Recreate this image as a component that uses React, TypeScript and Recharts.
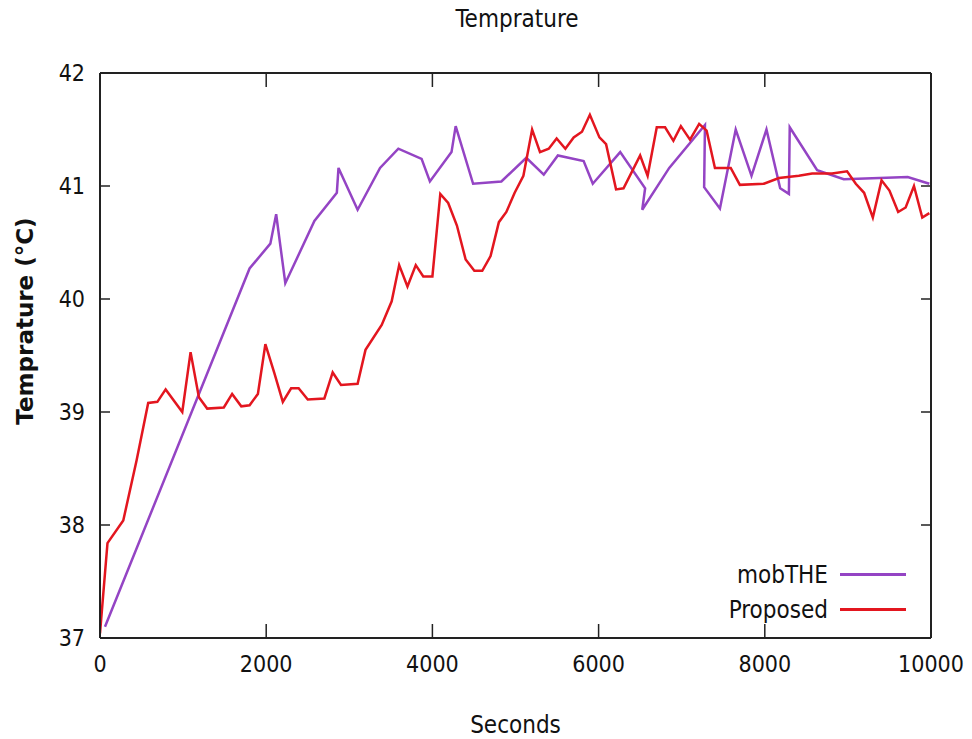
import { LineChart, Line, XAxis, YAxis, Legend } from 'recharts'

const mobTheTime = [60, 1800, 2050, 2120, 2230, 2580, 2850, 2870, 3100, 3370, 3590, 3870, 3970, 4230, 4280, 4490, 4830, 5130, 5340, 5510, 5820, 5930, 6260, 6560, 6525, 6850, 7280, 7270, 7460, 7650, 7840, 8020, 8185, 8290, 8300, 8630, 8950, 9720, 9980]
const mobTheTemp = [37.1, 40.27, 40.49, 40.75, 40.14, 40.69, 40.94, 41.16, 40.79, 41.16, 41.33, 41.24, 41.04, 41.3, 41.53, 41.02, 41.04, 41.25, 41.1, 41.27, 41.22, 41.02, 41.3, 40.98, 40.79, 41.16, 41.54, 40.99, 40.8, 41.5, 41.09, 41.5, 40.98, 40.93, 41.52, 41.14, 41.06, 41.08, 41.02]

const proposedTime = [0, 90, 280, 440, 580, 690, 790, 990, 1090, 1190, 1290, 1490, 1590, 1700, 1800, 1900, 1990, 2100, 2200, 2300, 2390, 2500, 2700, 2800, 2900, 3100, 3195, 3390, 3510, 3600, 3700, 3800, 3890, 4000, 4095, 4190, 4295, 4400, 4505, 4600, 4700, 4800, 4890, 4990, 5095, 5200, 5295, 5400, 5495, 5600, 5700, 5800, 5895, 6010, 6090, 6210, 6300, 6500, 6590, 6700, 6800, 6900, 6990, 7100, 7210, 7300, 7400, 7590, 7700, 7990, 8170, 8410, 8570, 8810, 8990, 9095, 9195, 9300, 9405, 9500, 9605, 9695, 9795, 9895, 9980]
const proposedTemp = [37.04, 37.84, 38.04, 38.57, 39.08, 39.09, 39.2, 39.0, 39.53, 39.13, 39.03, 39.04, 39.16, 39.05, 39.06, 39.16, 39.6, 39.34, 39.09, 39.21, 39.21, 39.11, 39.12, 39.35, 39.24, 39.25, 39.55, 39.77, 39.98, 40.3, 40.11, 40.3, 40.2, 40.2, 40.93, 40.85, 40.65, 40.35, 40.25, 40.25, 40.38, 40.68, 40.77, 40.94, 41.09, 41.5, 41.3, 41.33, 41.42, 41.33, 41.43, 41.48, 41.63, 41.43, 41.37, 40.97, 40.98, 41.27, 41.09, 41.52, 41.52, 41.4, 41.53, 41.41, 41.55, 41.49, 41.16, 41.16, 41.01, 41.02, 41.07, 41.09, 41.11, 41.11, 41.13, 41.02, 40.94, 40.72, 41.05, 40.96, 40.77, 40.81, 41.0, 40.72, 40.76]

const xTicks = [0, 2000, 4000, 6000, 8000, 10000]
const yTicks = [37, 38, 39, 40, 41, 42]

const series = [
  { name: 'mobTHE', color: '#9444c4', time: mobTheTime, temp: mobTheTemp },
  { name: 'Proposed', color: '#e3161f', time: proposedTime, temp: proposedTemp },
]

const FONT = '"DejaVu Sans Condensed", "DejaVu Sans", sans-serif'
const AXIS = '#222'

function BottomTick({ x, y, payload }: any) {
  return (
    <g>
      <line x1={x} x2={x} y1={y} y2={y - 14} stroke={AXIS} strokeWidth={1.5} />
      <text x={x} y={y + 34} textAnchor="middle" fontFamily={FONT} fontSize={23} fill="#111">
        {payload.value}
      </text>
    </g>
  )
}

function TopTick({ x, y }: any) {
  return <line x1={x} x2={x} y1={y} y2={y + 14} stroke={AXIS} strokeWidth={1.5} />
}

function LeftTick({ x, y, payload }: any) {
  return (
    <g>
      <line x1={x} x2={x + 10} y1={y} y2={y} stroke={AXIS} strokeWidth={1.5} />
      <text x={x - 15} y={y + 8} textAnchor="end" fontFamily={FONT} fontSize={23} fill="#111">
        {payload.value}
      </text>
    </g>
  )
}

function RightTick({ x, y }: any) {
  return <line x1={x} x2={x - 10} y1={y} y2={y} stroke={AXIS} strokeWidth={1.5} />
}

function YTitle() {
  return (
    <text
      transform="translate(33,321) rotate(-90)"
      textAnchor="middle"
      fontFamily='"DejaVu Sans", sans-serif'
      fontWeight="bold"
      fontSize={23}
      fill="#111"
    >
      Temprature (°C)
    </text>
  )
}

function KeyBox() {
  return (
    <div style={{ fontFamily: FONT, fontSize: 24, color: '#111' }}>
      {series.map((s) => (
        <div key={s.name} style={{ display: 'flex', alignItems: 'center', justifyContent: 'flex-end', height: 35 }}>
          <span>{s.name}</span>
          <span style={{ display: 'inline-block', width: 66, height: 3, background: s.color, marginLeft: 12 }} />
        </div>
      ))}
    </div>
  )
}

export default function App() {
  const lines = series.map((s) => ({
    ...s,
    points: s.time.map((t, i) => ({ t, v: s.temp[i] })),
  }))
  return (
    <div style={{ position: 'absolute', left: 0, top: 0, width: 972, height: 739, background: '#fff' }}>
      <div
        style={{
          position: 'absolute',
          left: 0,
          width: 1034,
          top: 5,
          textAlign: 'center',
          fontFamily: FONT,
          fontSize: 24,
          color: '#111',
        }}
      >
        Temprature
      </div>
      <LineChart width={972} height={739} margin={{ top: 72, right: 40, bottom: 0, left: 40 }}>
        <XAxis
          dataKey="t"
          type="number"
          domain={[0, 10000]}
          ticks={xTicks}
          interval={0}
          allowDataOverflow
          height={101}
          tickSize={0}
          tickMargin={0}
          tickLine={false}
          axisLine={{ stroke: AXIS, strokeWidth: 2 }}
          tick={<BottomTick />}
          label={{ value: 'Seconds', position: 'insideBottom', offset: 6, fontFamily: FONT, fontSize: 24, fill: '#111' }}
        />
        <XAxis
          xAxisId="top"
          orientation="top"
          dataKey="t"
          type="number"
          domain={[0, 10000]}
          ticks={xTicks}
          interval={0}
          allowDataOverflow
          height={1}
          tickSize={0}
          tickMargin={0}
          tickLine={false}
          axisLine={{ stroke: AXIS, strokeWidth: 2 }}
          tick={<TopTick />}
        />
        <YAxis
          type="number"
          domain={[37, 42]}
          ticks={yTicks}
          interval={0}
          allowDataOverflow
          width={60}
          tickSize={0}
          tickMargin={0}
          tickLine={false}
          axisLine={{ stroke: AXIS, strokeWidth: 2 }}
          tick={<LeftTick />}
          label={{ content: <YTitle /> }}
        />
        <YAxis
          yAxisId="right"
          orientation="right"
          type="number"
          domain={[37, 42]}
          ticks={yTicks}
          interval={0}
          allowDataOverflow
          width={1}
          tickSize={0}
          tickMargin={0}
          tickLine={false}
          axisLine={{ stroke: AXIS, strokeWidth: 2 }}
          tick={<RightTick />}
        />
        {lines.map((s) => (
          <Line
            key={s.name}
            data={s.points}
            dataKey="v"
            name={s.name}
            type="linear"
            stroke={s.color}
            strokeWidth={2.5}
            dot={false}
            isAnimationActive={false}
          />
        ))}
        <Line
          data={lines[1].points}
          dataKey="v"
          xAxisId="top"
          yAxisId="right"
          stroke="none"
          legendType="none"
          dot={false}
          activeDot={false}
          isAnimationActive={false}
        />
        <Legend
          layout="vertical"
          align="center"
          verticalAlign="middle"
          content={<KeyBox />}
          wrapperStyle={{ position: 'absolute', left: 690, top: 557, width: 216 }}
        />
      </LineChart>
    </div>
  )
}
